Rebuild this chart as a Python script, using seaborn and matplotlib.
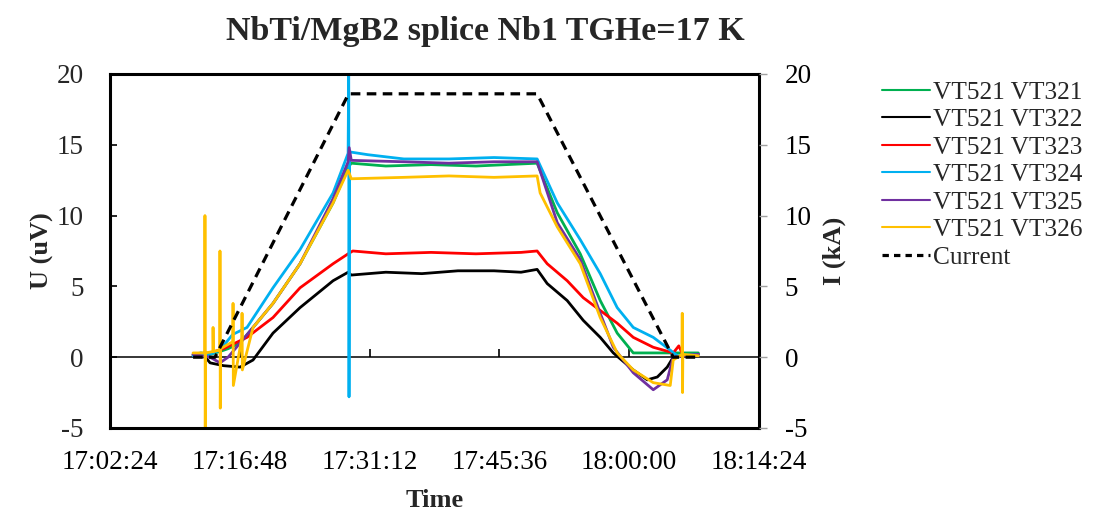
import pandas as pd
import matplotlib
matplotlib.use("Agg")
import matplotlib.pyplot as plt
import matplotlib.dates as mdates
from matplotlib.lines import Line2D
import seaborn as sns

# -- data (time, voltage in uV / current in kA) --
day = "2020-01-01 "

t_vt321 = ["17:11:37", "17:12:30", "17:13:30", "17:14:36", "17:15:30", "17:16:50", "17:18:16",
           "17:20:29", "17:23:29", "17:27:09", "17:28:49", "17:29:10", "17:33:00", "17:38:00",
           "17:43:00", "17:49:47", "17:52:01", "17:54:34", "17:56:47", "17:58:40", "18:00:27",
           "18:02:40", "18:04:53", "18:07:40"]
u_vt321 = [0.2, 0.3, 0.2, 0.4, 0.6, 1.0, 2.1,
           3.8, 6.6, 10.9, 13.4, 13.7, 13.5, 13.6,
           13.5, 13.7, 10.2, 7.3, 4.0, 1.7, 0.3,
           0.3, 0.3, 0.3]

t_vt322 = ["17:11:37", "17:13:00", "17:13:30", "17:15:00", "17:16:50", "17:18:16", "17:20:29",
           "17:23:29", "17:27:09", "17:28:49", "17:29:10", "17:33:00", "17:37:00", "17:41:00",
           "17:45:00", "17:48:00", "17:49:47", "17:50:54", "17:53:07", "17:54:54", "17:56:47",
           "17:58:14", "18:00:27", "18:02:00", "18:03:07", "18:04:13", "18:04:53", "18:07:40"]
u_vt322 = [0.1, 0.0, -0.4, -0.6, -0.7, -0.2, 1.7,
           3.5, 5.4, 6.0, 5.8, 6.0, 5.9, 6.1,
           6.1, 6.0, 6.2, 5.2, 4.0, 2.6, 1.4,
           0.3, -0.9, -1.6, -1.4, -0.7, 0.0, 0.2]

t_vt323 = ["17:11:37", "17:13:30", "17:15:00", "17:17:36", "17:20:29", "17:23:29", "17:27:09",
           "17:28:49", "17:29:20", "17:33:00", "17:38:00", "17:43:00", "17:48:00", "17:49:47",
           "17:50:54", "17:53:07", "17:54:54", "17:56:47", "17:58:40", "18:00:27", "18:02:40",
           "18:04:53", "18:05:30", "18:06:00", "18:07:40"]
u_vt323 = [0.2, 0.3, 0.6, 1.4, 2.8, 4.9, 6.6,
           7.3, 7.5, 7.3, 7.4, 7.3, 7.4, 7.5,
           6.6, 5.4, 4.2, 3.3, 2.4, 1.4, 0.7,
           0.3, 0.8, 0.1, 0.2]

t_vt324 = ["17:11:37", "17:13:30", "17:14:36", "17:16:00", "17:17:36", "17:20:29", "17:23:29",
           "17:27:09", "17:28:49", "17:28:53", "17:28:55", "17:28:58", "17:31:00", "17:35:00",
           "17:40:00", "17:45:00", "17:49:47", "17:52:01", "17:54:34", "17:56:47", "17:58:40",
           "18:00:27", "18:02:40", "18:04:33", "18:05:20", "18:07:40"]
u_vt324 = [0.1, 0.2, 0.5, 1.6, 2.1, 4.9, 7.6,
           11.6, 14.4, 21.0, -2.8, 14.5, 14.3, 14.0,
           14.0, 14.1, 14.0, 10.9, 8.3, 5.9, 3.5,
           2.1, 1.4, 0.5, 0.1, 0.2]

t_vt325 = ["17:11:37", "17:13:30", "17:14:36", "17:15:30", "17:16:50", "17:18:16", "17:20:29",
           "17:23:29", "17:27:09", "17:28:49", "17:28:56", "17:29:10", "17:35:00", "17:40:00",
           "17:45:00", "17:49:47", "17:52:01", "17:54:34", "17:56:47", "17:58:14", "18:00:27",
           "18:02:40", "18:04:13", "18:04:53", "18:07:40"]
u_vt325 = [0.2, 0.0, -0.4, 0.0, 1.0, 2.1, 3.8,
           6.6, 11.2, 13.8, 14.8, 13.9, 13.8, 13.7,
           13.8, 13.8, 9.5, 6.9, 3.1, 0.7, -1.1,
           -2.3, -1.6, 0.0, 0.2]

t_vt326 = ["17:11:37", "17:12:55", "17:12:56", "17:12:58", "17:13:00", "17:13:49", "17:13:50",
           "17:13:52", "17:14:35", "17:14:36", "17:14:38", "17:14:40", "17:16:02", "17:16:03",
           "17:16:05", "17:17:02", "17:17:03", "17:17:05", "17:18:16", "17:20:29", "17:23:29",
           "17:27:09", "17:28:49", "17:29:10", "17:35:00", "17:40:00", "17:45:00", "17:49:47",
           "17:50:07", "17:52:01", "17:54:34", "17:56:47", "17:58:40", "18:00:27", "18:02:40",
           "18:04:33", "18:04:53", "18:05:51", "18:05:53", "18:05:55", "18:05:57", "18:07:40"]
u_vt326 = [0.3, 0.3, 10.0, -5.5, 0.3, 0.4, 2.1,
           0.4, 0.5, 7.5, -3.6, 0.6, 1.1, 3.8,
           -2.0, 1.4, 3.1, -0.9, 2.1, 3.8, 6.6,
           10.9, 13.2, 12.6, 12.7, 12.8, 12.7, 12.8,
           11.6, 9.2, 6.6, 2.8, 0.3, -0.9, -1.8,
           -2.0, -0.2, 0.2, 3.1, -2.5, 0.2, 0.1]

t_current = ["17:11:37", "17:14:03", "17:28:52", "17:49:47", "18:04:53", "18:07:40"]
i_current = [0.0, 0.0, 18.6, 18.6, 0.0, 0.0]

series_names = ["VT521 VT321", "VT521 VT322", "VT521 VT323",
                "VT521 VT324", "VT521 VT325", "VT521 VT326"]
series_times = [t_vt321, t_vt322, t_vt323, t_vt324, t_vt325, t_vt326]
series_values = [u_vt321, u_vt322, u_vt323, u_vt324, u_vt325, u_vt326]
colors = ["#00B050", "#000000", "#FF0000", "#00B0F0", "#7030A0", "#FFC000"]

x_ticks = ["17:02:24", "17:16:48", "17:31:12", "17:45:36", "18:00:00", "18:14:24"]
y_ticks = [-5, 0, 5, 10, 15, 20]

# long table for seaborn
frames = []
for name, tt, vv in zip(series_names, series_times, series_values):
    frames.append(pd.DataFrame({"Time": pd.to_datetime([day + s for s in tt]),
                                "U": vv, "series": name}))
df = pd.concat(frames, ignore_index=True)
df_cur = pd.DataFrame({"Time": pd.to_datetime([day + s for s in t_current]), "I": i_current})

# -- figure --
sns.set_theme(style="white")
plt.rcParams["font.family"] = ["Liberation Serif", "DejaVu Serif"]
plt.rcParams["axes.unicode_minus"] = False

fig = plt.figure(figsize=(11.1, 5.12), dpi=100)
ax = fig.add_axes([0.0991, 0.1641, 0.5847, 0.6914])
ax2 = ax.twinx()

ax.axhline(0, color="black", lw=1.1, zorder=1)

sns.lineplot(data=df, x="Time", y="U", hue="series", hue_order=series_names,
             palette=colors, estimator=None, sort=False, linewidth=2.0,
             legend=False, ax=ax, zorder=2)
sns.lineplot(data=df_cur, x="Time", y="I", color="black", linewidth=2.3,
             estimator=None, sort=False, ax=ax2)
ax2.lines[0].set_dashes((3, 2))

xt = pd.to_datetime([day + s for s in x_ticks])
for a in (ax, ax2):
    a.set_xlim(xt[0], xt[-1])
    a.set_ylim(-5, 20)
    a.set_yticks(y_ticks)
ax.set_xticks(xt)
ax.xaxis.set_major_formatter(mdates.DateFormatter("%H:%M:%S"))

# ticks on the zero line
zax = ax.secondary_xaxis(0, transform=ax.transData)
zax.set_xticks(xt)
zax.tick_params(axis="x", direction="in", length=6, width=1.2, color="black",
                labelbottom=False)
zax.spines["bottom"].set_visible(False)

for side in ["left", "right", "top", "bottom"]:
    ax.spines[side].set_color("black")
    ax.spines[side].set_linewidth(2.2)
    ax2.spines[side].set_visible(False)

ax.tick_params(axis="x", length=0, labelsize=19.5, pad=16, colors="black")
ax.tick_params(axis="y", direction="in", length=5, width=1.2, color="black",
               labelsize=19.5, pad=19, left=True)
ax2.tick_params(axis="y", direction="out", length=6, width=1.0, color="#A0A0A0",
                labelsize=19.5, pad=12.5, right=True, labelcolor="black")

ax.set_xlabel("Time", fontsize=19, fontweight="bold", labelpad=10)
ax.set_ylabel("U (uV)", fontsize=19, fontweight="bold", labelpad=2)
ax2.set_ylabel("I (kA)", fontsize=19, fontweight="bold", labelpad=8)

fig.text(0.437, 0.938, "NbTi/MgB2 splice Nb1 TGHe=17 K", fontsize=24.5,
         fontweight="bold", ha="center", va="center")

handles = [Line2D([], [], color=c, lw=1.5) for c in colors]
handles.append(Line2D([], [], color="black", lw=2.3, dashes=(2, 1.6)))
labels = series_names + ["Current"]
fig.legend(handles, labels, loc="upper left", bbox_to_anchor=(0.7855, 0.862),
           frameon=False, fontsize=18.3, handlelength=1.9, handletextpad=0.1,
           labelspacing=0.185, borderaxespad=0)

fig.savefig("out.png", dpi=100)
